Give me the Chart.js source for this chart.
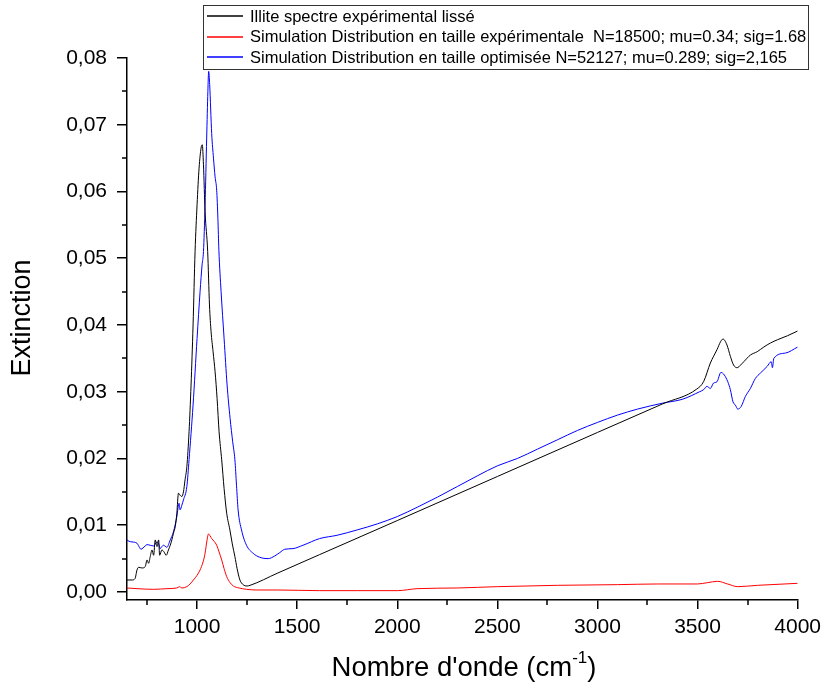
<!DOCTYPE html>
<html>
<head>
<meta charset="utf-8">
<script src="https://cdn.jsdelivr.net/npm/chart.js@4/dist/chart.umd.min.js"></script>
<style>
  html, body { margin: 0; padding: 0; background: #fff; }
  #wrap { width: 827px; height: 688px; }
</style>
</head>
<body>
<div id="wrap"><canvas id="spectre" width="827" height="688"></canvas></div>
<script>
// wavenumbers (cm-1) and extinction
var illiteWn = [650, 675, 690, 700, 708, 725, 741, 750, 758, 766, 775, 783, 791, 800, 808, 813, 824, 835, 846, 857, 866, 874, 882, 891, 899, 907, 915, 924, 932, 940, 949, 960, 970, 980, 990, 1000, 1010, 1020, 1026, 1032, 1040, 1053, 1062, 1070, 1080, 1090, 1100, 1110, 1123, 1135, 1148, 1164, 1176, 1189, 1200, 1214, 1230, 1250, 1265, 1400, 1612, 2000, 2500, 3000, 3327, 3496, 3530, 3564, 3597, 3615, 3627, 3647, 3664, 3680, 3698, 3715, 3731, 3764, 3798, 3831, 3864, 3900, 3950, 4000];
var illiteExt = [0.0018, 0.0018, 0.0020, 0.0033, 0.0037, 0.0036, 0.0038, 0.0048, 0.0043, 0.0053, 0.0063, 0.0055, 0.0078, 0.0068, 0.0078, 0.0055, 0.0063, 0.0060, 0.0055, 0.0063, 0.0070, 0.0078, 0.0088, 0.0098, 0.0118, 0.0148, 0.0145, 0.0143, 0.0150, 0.0168, 0.0188, 0.0240, 0.0310, 0.0400, 0.0510, 0.0580, 0.0635, 0.0665, 0.0670, 0.0640, 0.0570, 0.0510, 0.0430, 0.0390, 0.0360, 0.0330, 0.0290, 0.0240, 0.0198, 0.0155, 0.0118, 0.0093, 0.0072, 0.0053, 0.0035, 0.0018, 0.0011, 0.0009, 0.0010, 0.0028, 0.0056, 0.0107, 0.0173, 0.0239, 0.0282, 0.0304, 0.0315, 0.0343, 0.0363, 0.0375, 0.0379, 0.0370, 0.0353, 0.0340, 0.0336, 0.0340, 0.0345, 0.0355, 0.0360, 0.0367, 0.0373, 0.0378, 0.0384, 0.0391];

var simExpWn = [650, 700, 783, 850, 899, 912, 924, 949, 965, 982, 1000, 1015, 1030, 1040, 1050, 1057, 1065, 1073, 1085, 1098, 1110, 1123, 1135, 1148, 1165, 1181, 1210, 1247, 1300, 1400, 1612, 1800, 2000, 2100, 2300, 2500, 2800, 3100, 3300, 3500, 3550, 3600, 3650, 3700, 3800, 4000];
var simExpExt = [0.0006, 0.0005, 0.0004, 0.0005, 0.0006, 0.0008, 0.0006, 0.0008, 0.0012, 0.0018, 0.0025, 0.0033, 0.0045, 0.0058, 0.0078, 0.0087, 0.0084, 0.0080, 0.0076, 0.0070, 0.0060, 0.0048, 0.0035, 0.0023, 0.0014, 0.0009, 0.0006, 0.0004, 0.0003, 0.0003, 0.0002, 0.0002, 0.0002, 0.0005, 0.0006, 0.0008, 0.0010, 0.0011, 0.0012, 0.0012, 0.0014, 0.0016, 0.0012, 0.0008, 0.0010, 0.0013];

var simOptWn = [650, 660, 675, 700, 710, 720, 730, 741, 750, 766, 783, 800, 808, 816, 824, 832, 849, 866, 882, 899, 910, 915, 924, 932, 949, 960, 980, 1000, 1015, 1025, 1032, 1040, 1048, 1054, 1058, 1063, 1073, 1082, 1090, 1098, 1104, 1109, 1120, 1135, 1150, 1165, 1178, 1189, 1197, 1205, 1222, 1247, 1280, 1313, 1355, 1388, 1413, 1438, 1479, 1529, 1612, 1700, 1800, 1900, 2000, 2100, 2200, 2300, 2400, 2500, 2600, 2700, 2800, 2900, 3000, 3100, 3200, 3327, 3427, 3510, 3530, 3547, 3564, 3580, 3597, 3617, 3634, 3651, 3664, 3677, 3689, 3701, 3718, 3739, 3764, 3789, 3814, 3848, 3868, 3874, 3881, 3940, 4000];
var simOptExt = [0.0078, 0.0076, 0.0075, 0.0073, 0.0068, 0.0064, 0.0066, 0.0069, 0.0071, 0.0070, 0.0069, 0.0075, 0.0072, 0.0065, 0.0068, 0.0070, 0.0067, 0.0078, 0.0090, 0.0113, 0.0133, 0.0123, 0.0130, 0.0138, 0.0158, 0.0198, 0.0280, 0.0380, 0.0450, 0.0490, 0.0510, 0.0580, 0.0680, 0.0750, 0.0780, 0.0760, 0.0687, 0.0650, 0.0622, 0.0602, 0.0560, 0.0512, 0.0450, 0.0380, 0.0310, 0.0260, 0.0225, 0.0198, 0.0160, 0.0123, 0.0093, 0.0070, 0.0058, 0.0052, 0.0050, 0.0054, 0.0059, 0.0064, 0.0065, 0.0070, 0.0080, 0.0085, 0.0093, 0.0102, 0.0113, 0.0127, 0.0142, 0.0158, 0.0174, 0.0189, 0.0200, 0.0214, 0.0228, 0.0242, 0.0254, 0.0265, 0.0274, 0.0283, 0.0289, 0.0300, 0.0303, 0.0308, 0.0305, 0.0313, 0.0315, 0.0329, 0.0325, 0.0315, 0.0303, 0.0285, 0.0280, 0.0274, 0.0278, 0.0293, 0.0305, 0.0320, 0.0328, 0.0338, 0.0345, 0.0336, 0.0350, 0.0358, 0.0367];

var xTicks = [1000, 1500, 2000, 2500, 3000, 3500, 4000];
var xMinorTicks = [750, 1250, 1750, 2250, 2750, 3250, 3750];
var yTicks = [0, 0.01, 0.02, 0.03, 0.04, 0.05, 0.06, 0.07, 0.08];
var yMinorTicks = [0.005, 0.015, 0.025, 0.035, 0.045, 0.055, 0.065, 0.075];

var labels = [
  "Illite spectre expérimental lissé",
  "Simulation Distribution en taille expérimentale  N=18500; mu=0.34; sig=1.68",
  "Simulation Distribution en taille optimisée N=52127; mu=0.289; sig=2,165"
];

function pts(xs, ys) {
  return xs.map(function (x, i) { return { x: x, y: ys[i] }; });
}

var FONT = "'Liberation Sans', Arial, sans-serif";

// minor ticks, legend box and axis titles
var decor = {
  id: 'decor',
  afterDraw: function (chart) {
    var ctx = chart.ctx;
    var xs = chart.scales.x, ys = chart.scales.y;
    var area = chart.chartArea;
    ctx.save();
    ctx.strokeStyle = '#000';
    ctx.lineWidth = 1.5;
    ctx.beginPath();
    xMinorTicks.forEach(function (v) {
      var px = Math.round(xs.getPixelForValue(v));
      ctx.moveTo(px, area.bottom);
      ctx.lineTo(px, area.bottom + 5);
    });
    yMinorTicks.forEach(function (v) {
      var py = Math.round(ys.getPixelForValue(v));
      ctx.moveTo(area.left, py);
      ctx.lineTo(area.left - 5, py);
    });
    ctx.stroke();

    // legend
    ctx.fillStyle = '#fff';
    ctx.fillRect(203, 5, 605, 64);
    ctx.strokeStyle = '#333';
    ctx.lineWidth = 1;
    ctx.strokeRect(203.5, 5.5, 605, 64);
    ctx.font = '16.5px ' + FONT;
    ctx.textBaseline = 'middle';
    ctx.textAlign = 'left';
    chart.data.datasets.forEach(function (ds, i) {
      var y = 16 + i * 20.5;
      ctx.strokeStyle = ds.borderColor;
      ctx.lineWidth = 1.5;
      ctx.beginPath();
      ctx.moveTo(207, Math.round(y));
      ctx.lineTo(243, Math.round(y));
      ctx.stroke();
      ctx.fillStyle = '#000';
      ctx.fillText(ds.label, 250, y + 1);
    });

    // y title
    ctx.fillStyle = '#000';
    ctx.font = '27px ' + FONT;
    ctx.textAlign = 'center';
    ctx.textBaseline = 'middle';
    ctx.save();
    ctx.translate(23, 318);
    ctx.rotate(-Math.PI / 2);
    ctx.fillText('Extinction', 0, 0);
    ctx.restore();

    // x title with superscript
    ctx.textAlign = 'left';
    ctx.textBaseline = 'alphabetic';
    var main = "Nombre d'onde (cm", sup = "-1", close = ")";
    ctx.font = '27.5px ' + FONT;
    var w1 = ctx.measureText(main).width;
    var w3 = ctx.measureText(close).width;
    ctx.font = '17px ' + FONT;
    var w2 = ctx.measureText(sup).width;
    var x0 = 464 - (w1 + w2 + w3) / 2;
    var base = 676;
    ctx.font = '27.5px ' + FONT;
    ctx.fillText(main, x0, base);
    ctx.font = '17px ' + FONT;
    ctx.fillText(sup, x0 + w1, base - 13);
    ctx.font = '27.5px ' + FONT;
    ctx.fillText(close, x0 + w1 + w2, base);
    ctx.restore();
  }
};

var ctxSpectre = document.getElementById('spectre');
var spectre = new Chart(ctxSpectre, {
  type: 'line',
  data: {
    datasets: [
      {
        label: labels[0],
        data: pts(illiteWn, illiteExt),
        borderColor: '#000000',
        borderWidth: 1,
        pointRadius: 0,
        cubicInterpolationMode: 'monotone'
      },
      {
        label: labels[1],
        data: pts(simExpWn, simExpExt),
        borderColor: '#ff0000',
        borderWidth: 1,
        pointRadius: 0,
        cubicInterpolationMode: 'monotone'
      },
      {
        label: labels[2],
        data: pts(simOptWn, simOptExt),
        borderColor: '#0000ff',
        borderWidth: 1,
        pointRadius: 0,
        cubicInterpolationMode: 'monotone'
      }
    ]
  },
  options: {
    responsive: false,
    animation: false,
    layout: { padding: { left: 0, top: 58, right: 27, bottom: 0 } },
    plugins: {
      legend: { display: false },
      tooltip: { enabled: false }
    },
    scales: {
      x: {
        type: 'linear',
        min: 650,
        max: 4000,
        afterBuildTicks: function (scale) {
          scale.ticks = xTicks.map(function (v) { return { value: v }; });
        },
        afterFit: function (scale) { scale.height = 88; },
        grid: { drawOnChartArea: false, drawTicks: true, tickLength: 9, color: '#000', lineWidth: 1.5 },
        border: { display: true, color: '#000', width: 1.5 },
        ticks: {
          color: '#000',
          padding: 6,
          maxRotation: 0,
          font: { family: FONT, size: 21 },
          callback: function (v) { return String(v); }
        }
      },
      y: {
        type: 'linear',
        min: -0.0012,
        max: 0.08,
        afterBuildTicks: function (scale) {
          scale.ticks = yTicks.map(function (v) { return { value: v }; });
        },
        afterFit: function (scale) { scale.width = 127; },
        grid: { drawOnChartArea: false, drawTicks: true, tickLength: 10, color: '#000', lineWidth: 1.5 },
        border: { display: true, color: '#000', width: 1.5 },
        ticks: {
          color: '#000',
          padding: 10,
          font: { family: FONT, size: 21 },
          callback: function (v) { return v.toFixed(2).replace('.', ','); }
        }
      }
    }
  },
  plugins: [decor]
});
</script>
</body>
</html>
